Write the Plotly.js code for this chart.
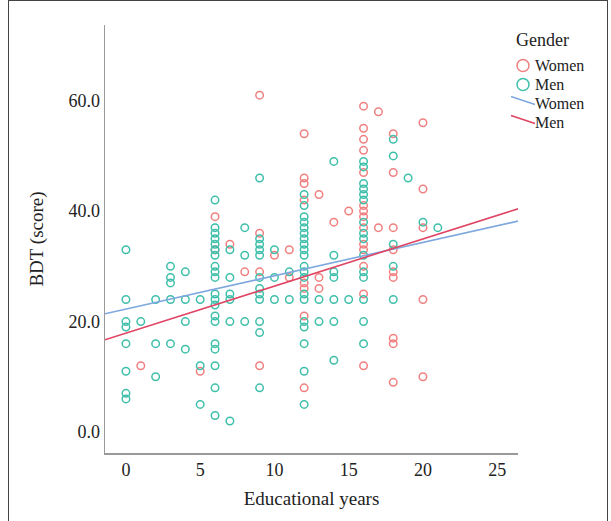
<!DOCTYPE html>
<html>
<head>
<meta charset="utf-8">
<script src="https://cdn.plot.ly/plotly-3.0.1.min.js"></script>
<style>
  html, body { margin: 0; padding: 0; background: #fff; }
  #wrap { position: relative; width: 611px; height: 521px; }
  #chart { position: absolute; left: 0; top: 0; width: 611px; height: 521px; }
  #frame { position: absolute; left: 8px; top: 0; width: 598px; height: 530px;
           border-left: 1px solid #444; border-right: 1px solid #444; border-top: 1px solid #444; pointer-events: none; }
</style>
</head>
<body>
<div id="wrap">
  <div id="chart"></div>
  <div id="frame"></div>
</div>
<script>
// ---- Data ----
const menYears = [
  0,0,0,0,0,0,0,0,
  1,
  2,2,2,
  3,3,3,3,3,
  4,4,4,4,
  5,5,5,
  6,6,6,6,6,6,6,6,6,6,6,6,6,6,6,6,6,6,6,6,
  7,7,7,7,7,7,
  8,8,8,
  9,9,9,9,9,9,9,9,9,9,9,9,
  10,10,10,
  11,11,
  12,12,12,12,12,12,12,12,12,12,12,12,12,12,12,12,12,12,12,12,
  13,13,
  14,14,14,14,14,14,14,
  15,
  16,16,16,16,16,16,16,16,16,16,16,16,16,16,16,
  18,18,18,18,18,
  19,
  20,
  21
];
const menBDT = [
  33,24,20,19,16,11,7,6,
  20,
  24,16,10,
  30,28,27,24,16,
  29,24,20,15,
  24,12,5,
  42,37,36,35,34,33,32,30,29,28,25,24,23,21,20,16,15,12,8,3,
  33,28,25,24,20,2,
  37,32,20,
  46,35,34,33,32,28,26,25,24,20,18,8,
  33,28,24,
  29,24,
  43,41,39,38,37,36,35,34,33,32,30,29,28,25,24,20,19,16,11,5,
  24,20,
  49,32,29,28,24,20,13,
  24,
  49,48,45,44,43,42,38,36,35,32,29,28,24,20,16,
  53,50,34,30,24,
  46,
  38,
  37
];
const womenYears = [
  1,
  5,
  6,6,
  7,
  8,
  9,9,9,9,
  10,
  11,11,
  12,12,12,12,12,12,12,12,
  13,13,13,
  14,
  15,
  16,16,16,16,16,16,16,16,16,16,16,16,16,16,
  17,17,
  18,18,18,18,18,18,18,18,18,
  20,20,20,20,20
];
const womenBDT = [
  12,
  11,
  39,33,
  34,
  29,
  61,36,29,12,
  32,
  33,28,
  54,46,45,42,27,26,21,8,
  43,28,26,
  38,
  40,
  59,55,53,51,47,41,40,39,37,34,33,30,25,12,
  58,37,
  54,47,37,33,29,28,17,16,9,
  56,44,37,24,10
];
// Fit lines (as labelled in the reference legend)
const fitNames = ['Women', 'Men'];
const fitIntercepts = [22.25, 17.9];
const fitSlopes = [0.604, 0.853];

const pointNames = ['Women', 'Men'];
const legendTitle = 'Gender';

const xTicks = [0, 5, 10, 15, 20, 25];
const yTicks = [0, 20, 40, 60];

// ---- Styles ----
const FONT = 'Liberation Serif, Times New Roman, serif';
const TXT = '#222';
const xRange = [-1.41, 26.4];
const yRange = [-3.8, 73.7];
const pointColors = ['#F08080', '#3FBFAA'];
const lineColors = ['#7FA8DE', '#E04463'];

const W = 611, H = 521;
const M = { l: 105, r: 93, t: 25, b: 68 };
const PW = W - M.l - M.r, PH = H - M.t - M.b;
const PX = px => (px - M.l) / PW;          // pixel -> paper x
const PY = py => (H - M.b - py) / PH;      // pixel -> paper y

const traces = [
  {
    type: 'scatter', mode: 'markers', name: pointNames[0],
    x: womenYears, y: womenBDT,
    marker: { symbol: 'circle-open', size: 7.5, color: pointColors[0], line: { width: 1.5, color: pointColors[0] } }
  },
  {
    type: 'scatter', mode: 'markers', name: pointNames[1],
    x: menYears, y: menBDT,
    marker: { symbol: 'circle-open', size: 7.5, color: pointColors[1], line: { width: 1.5, color: pointColors[1] } }
  }
];
fitNames.forEach((nm, i) => {
  traces.push({
    type: 'scatter', mode: 'lines', name: nm,
    x: xRange.slice(),
    y: xRange.map(v => fitIntercepts[i] + fitSlopes[i] * v),
    line: { color: lineColors[i], width: 1.6 }
  });
});

// ---- Compact legend drawn like the reference ----
const shapes = [];
const annotations = [];
const legFont = { family: FONT, size: 16, color: TXT };
annotations.push({ xref: 'paper', yref: 'paper', x: PX(515), y: PY(40), xanchor: 'left', yanchor: 'middle',
  text: legendTitle, showarrow: false, font: { family: FONT, size: 18, color: TXT }, borderpad: 0 });
const rowY = [65.5, 84.5, 103.5, 122.5];
pointNames.forEach((nm, i) => {
  const cy = rowY[i];
  shapes.push({ type: 'circle', xref: 'paper', yref: 'paper',
    x0: PX(517), x1: PX(529), y0: PY(cy - 6), y1: PY(cy + 6),
    line: { color: pointColors[i], width: 1.5 } });
  annotations.push({ xref: 'paper', yref: 'paper', x: PX(534), y: PY(cy), xanchor: 'left', yanchor: 'middle',
    text: nm, showarrow: false, font: legFont, borderpad: 0 });
});
fitNames.forEach((nm, i) => {
  const cy = rowY[i + 2];
  shapes.push({ type: 'line', xref: 'paper', yref: 'paper',
    x0: PX(511), x1: PX(535), y0: PY(cy - 7), y1: PY(cy + 1),
    line: { color: lineColors[i], width: 1.5 } });
  annotations.push({ xref: 'paper', yref: 'paper', x: PX(534), y: PY(cy), xanchor: 'left', yanchor: 'middle',
    text: nm, showarrow: false, font: legFont, borderpad: 0 });
});

const axisCommon = {
  showgrid: false, zeroline: false, showline: true,
  linecolor: '#9a9a9a', linewidth: 1.5, ticks: '',
  tickfont: { family: FONT, size: 18, color: TXT }
};

const layout = {
  width: W, height: H,
  margin: M,
  paper_bgcolor: '#fff', plot_bgcolor: '#fff',
  font: { family: FONT, color: TXT },
  showlegend: false,
  xaxis: Object.assign({}, axisCommon, {
    range: xRange, tickvals: xTicks, ticktext: xTicks.map(String),
    title: { text: 'Educational years', font: { family: FONT, size: 19, color: TXT }, standoff: 12 }
  }),
  yaxis: Object.assign({}, axisCommon, {
    range: yRange, tickvals: yTicks, tickformat: '.1f',
    title: { text: 'BDT (score)', font: { family: FONT, size: 19, color: TXT }, standoff: 20 }
  }),
  shapes: shapes,
  annotations: annotations
};

Plotly.newPlot('chart', traces, layout, { displayModeBar: false, staticPlot: true });
</script>
</body>
</html>
